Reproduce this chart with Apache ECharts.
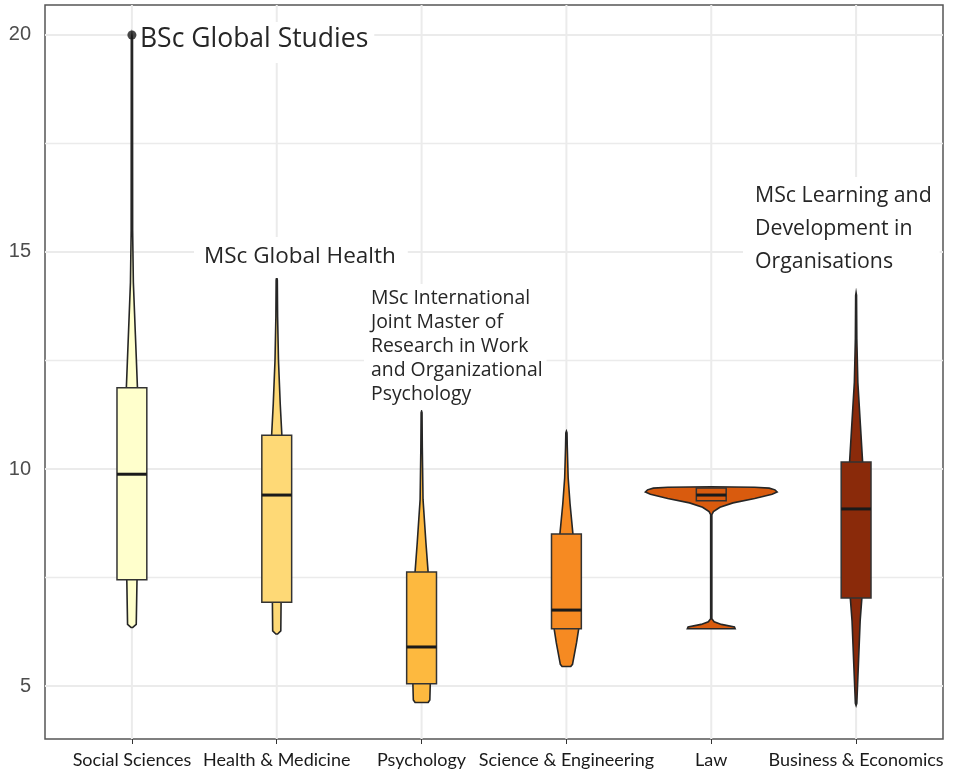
<!DOCTYPE html>
<html>
<head>
<meta charset="utf-8">
<script src="https://cdn.jsdelivr.net/npm/echarts@6/dist/echarts.min.js"></script>
<style>
  html, body { margin: 0; padding: 0; background: #fff; }
  #violin { width: 963px; height: 774px; }
</style>
</head>
<body>
<div id="violin"></div>
<script>
const categories = ['Social Sciences', 'Health & Medicine', 'Psychology', 'Science & Engineering', 'Law', 'Business & Economics'];

// box stats
const q1 = [7.45, 6.93, 5.05, 6.32, 9.27, 7.03];
const medians = [9.88, 9.4, 5.9, 6.75, 9.4, 9.08];
const q3 = [11.87, 10.78, 7.63, 8.5, 9.56, 10.16];

// violin outlines: [value, half width in category units], bottom to top
const violinSocial = [[6.35, 0.006], [6.42, 0.03], [7.4, 0.035], [9.9, 0.06], [11.9, 0.038], [12.5, 0.031], [13.1, 0.024], [14.3, 0.01], [15.5, 0.005], [19.9, 0.004], [20, 0]];
const violinHealth = [[6.2, 0.006], [6.27, 0.028], [6.93, 0.03], [9, 0.06], [10.8, 0.035], [11.5, 0.024], [12.5, 0.012], [13.5, 0.006], [14.35, 0.004], [14.42, 0]];
const violinPsych = [[4.62, 0.045], [4.68, 0.057], [5.05, 0.06], [6, 0.09], [7.63, 0.045], [8.3, 0.03], [9.3, 0.01], [10.5, 0.005], [11.3, 0.003], [11.33, 0]];
const violinScience = [[5.45, 0.03], [5.5, 0.042], [6.0, 0.07], [6.32, 0.085], [7, 0.1], [8.5, 0.045], [9.2, 0.025], [9.8, 0.012], [10.5, 0.006], [10.83, 0.004], [10.87, 0]];
const violinLaw = [[6.32, 0.165], [6.36, 0.16], [6.42, 0.07], [6.48, 0.02], [6.55, 0.004], [8.95, 0.004], [9.02, 0.015], [9.12, 0.06], [9.22, 0.15], [9.32, 0.3], [9.42, 0.42], [9.47, 0.455], [9.52, 0.44], [9.56, 0.4], [9.58, 0.3], [9.59, 0]];
const violinBusiness = [[4.55, 0], [4.6, 0.005], [5.5, 0.016], [6.5, 0.028], [7.03, 0.04], [9, 0.07], [10.16, 0.045], [11, 0.03], [12, 0.012], [13, 0.005], [14, 0.003], [14.06, 0]];
const violinOutlines = [violinSocial, violinHealth, violinPsych, violinScience, violinLaw, violinBusiness];

const outliers = [[0, 20]];

const yTicks = [5, 10, 15, 20];
const yMinor = [7.5, 12.5, 17.5];

const fills = ['#FFFFCC', '#FED976', '#FDB93F', '#F68A22', '#D95B0E', '#8A2A0A'];
const BOX_HALF = 0.103;
const X_MIN = -0.6;
const X_MAX = 5.6;
const Y_MIN = 3.78;
const Y_MAX = 20.69;

function renderHGrid(params, api) {
  const v = api.value(0);
  const a = api.coord([X_MIN, v]);
  const b = api.coord([X_MAX, v]);
  return {
    type: 'line',
    shape: { x1: a[0], y1: a[1], x2: b[0], y2: b[1] },
    style: { stroke: '#EBEBEB', lineWidth: api.value(1) },
  };
}

function renderVGrid(params, api) {
  const v = api.value(0);
  const a = api.coord([v, Y_MIN]);
  const b = api.coord([v, Y_MAX]);
  return {
    type: 'line',
    shape: { x1: a[0], y1: a[1], x2: b[0], y2: b[1] },
    style: { stroke: '#EBEBEB', lineWidth: 2 },
  };
}

function renderViolin(params, api) {
  const idx = api.value(0);
  const pts = violinOutlines[idx];
  const right = pts.map(p => api.coord([idx + p[1], p[0]]));
  const left = pts.slice().reverse().map(p => api.coord([idx - p[1], p[0]]));
  return {
    type: 'polygon',
    shape: { points: right.concat(left) },
    style: { fill: fills[idx], stroke: '#262626', lineWidth: 1.6 },
  };
}

function renderBox(params, api) {
  const idx = api.value(0);
  const tl = api.coord([idx - BOX_HALF, api.value(3)]);
  const br = api.coord([idx + BOX_HALF, api.value(1)]);
  const ml = api.coord([idx - BOX_HALF, api.value(2)]);
  const mr = api.coord([idx + BOX_HALF, api.value(2)]);
  return {
    type: 'group',
    children: [
      {
        type: 'rect',
        shape: { x: tl[0], y: tl[1], width: br[0] - tl[0], height: br[1] - tl[1] },
        style: { fill: fills[idx], stroke: '#333', lineWidth: 1.5 },
      },
      {
        type: 'line',
        shape: { x1: ml[0], y1: ml[1], x2: mr[0], y2: mr[1] },
        style: { stroke: '#1a1a1a', lineWidth: 3 },
      },
    ],
  };
}

const noteFont = '"Open Sans", Lato, sans-serif';

const option = {
  animation: false,
  backgroundColor: '#fff',
  grid: {
    left: 45, right: 20, top: 5, bottom: 35,
    show: true, borderColor: '#555', borderWidth: 1.5, backgroundColor: '#fff',
  },
  xAxis: {
    type: 'value',
    min: X_MIN,
    max: X_MAX,
    splitLine: { show: false },
    axisLine: { show: false },
    axisTick: { show: true, customValues: [0, 1, 2, 3, 4, 5], length: 5, lineStyle: { color: '#333' } },
    axisLabel: {
      customValues: [0, 1, 2, 3, 4, 5],
      formatter: v => categories[Math.round(v)],
      color: '#1a1a1a',
      fontSize: 18,
      fontFamily: 'Lato, sans-serif',
      margin: 12,
    },
  },
  yAxis: {
    type: 'value',
    min: Y_MIN,
    max: Y_MAX,
    splitLine: { show: false },
    axisLine: { show: false },
    axisTick: { show: true, customValues: yTicks, length: 4, lineStyle: { color: '#333' } },
    axisLabel: {
      customValues: yTicks,
      color: '#4D4D4D',
      fontSize: 20,
      fontFamily: '"Liberation Sans Narrow", "Liberation Sans", Arial, sans-serif',
      margin: 14,
    },
  },
  series: [
    {
      type: 'custom',
      z: 1,
      silent: true,
      renderItem: renderHGrid,
      data: yTicks.map(v => [v, 2]).concat(yMinor.map(v => [v, 1.5])),
    },
    {
      type: 'custom',
      z: 1,
      silent: true,
      renderItem: renderVGrid,
      data: categories.map((c, i) => [i]),
    },
    {
      type: 'custom',
      z: 2,
      renderItem: renderViolin,
      data: categories.map((c, i) => [i]),
    },
    {
      type: 'custom',
      z: 3,
      renderItem: renderBox,
      data: categories.map((c, i) => [i, q1[i], medians[i], q3[i]]),
    },
    {
      type: 'scatter',
      z: 200,
      symbolSize: 9,
      itemStyle: { color: '#1a1a1a' },
      data: outliers,
    },
  ],
  graphic: [
    {
      type: 'text', x: 137, y: 22, z: 100,
      style: {
        text: 'BSc Global Studies', font: '26.5px ' + noteFont, fill: '#262626',
        backgroundColor: '#fff', padding: [4, 6, 10, 3],
      },
    },
    {
      type: 'text', x: 194, y: 237, z: 100,
      style: {
        text: 'MSc Global Health', font: '22.5px ' + noteFont, fill: '#262626',
        backgroundColor: '#fff', padding: [8, 12, 10, 10],
      },
    },
    {
      type: 'text', x: 364, y: 284, z: 100,
      style: {
        text: 'MSc International\nJoint Master of\nResearch in Work\nand Organizational\nPsychology',
        font: '19.4px ' + noteFont, fill: '#262626', lineHeight: 24,
        backgroundColor: '#fff', padding: [2, 4, 4, 7],
      },
    },
    {
      type: 'text', x: 743, y: 177, z: 100,
      style: {
        text: 'MSc Learning and\nDevelopment in\nOrganisations',
        font: '21.3px ' + noteFont, fill: '#262626', lineHeight: 33,
        backgroundColor: '#fff', padding: [2, 8, 10, 12],
      },
    },
  ],
};

const myChart = echarts.init(document.getElementById('violin'));
myChart.setOption(option);
</script>
</body>
</html>
